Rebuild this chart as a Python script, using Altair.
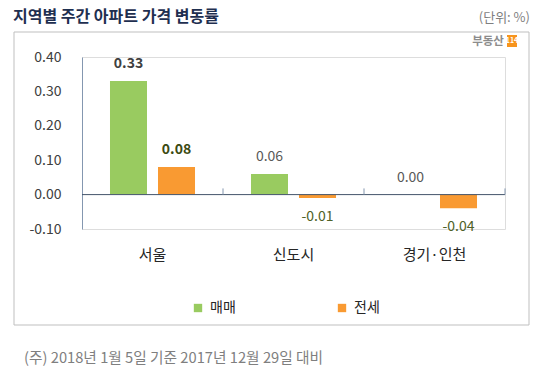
import altair as alt
import pandas as pd

categories = ["서울", "신도시", "경기·인천"]
series = ["매매", "전세"]
sale = [0.33, 0.06, 0.00]
jeonse = [0.08, -0.01, -0.04]
y_ticks = [-0.1, 0.0, 0.1, 0.2, 0.3, 0.4]
bar_colors = ["#99CB60", "#F99A32"]
title_text = "지역별 주간 아파트 가격 변동률"
unit_text = "(단위: %)"
note_text = "(주) 2018년 1월 5일 기준 2017년 12월 29일 대비"
logo_text = "부동산"
logo_num = "114"

FONT = "Noto Sans CJK KR"
W, H = 423, 172

label_color = {("매매", True): "#404040", ("전세", True): "#3B4A12",
               ("매매", False): "#595959", ("전세", False): "#4F6228"}

rows = []
for i, c in enumerate(categories):
    for s, vals in zip(series, [sale, jeonse]):
        v = vals[i]
        strong = (i == 0)
        rows.append({"region": c, "series": s, "value": v,
                     "label": f"{v:.2f}", "strong": strong,
                     "lcolor": label_color[(s, strong)]})
df = pd.DataFrame(rows)
one = pd.DataFrame({"k": [0]})

x_scale = alt.Scale(domain=categories, paddingInner=0, paddingOuter=0)
x_axis = alt.Axis(title=None, domain=False, ticks=False, labelAngle=0,
                  labelFontSize=15, labelFont=FONT, labelColor="#262626",
                  labelPadding=18)
xo_scale = alt.Scale(domain=series, paddingInner=0.229, paddingOuter=0.583)
y_scale = alt.Scale(domain=[-0.1, 0.4], nice=False, zero=False)
y_axis = alt.Axis(values=y_ticks, title=None, grid=False, ticks=False,
                  domainColor="#8497B0", labelFontSize=14, labelFont=FONT,
                  labelColor="#404040", labelPadding=21, labelOverlap=False,
                  labelExpr="datum.value < 0 ? '-' + format(-datum.value, '.2f') : format(datum.value, '.2f')")

x_enc = alt.X("region:N", sort=categories, scale=x_scale, axis=x_axis)
xo_enc = alt.XOffset("series:N", sort=series, scale=xo_scale)
y_enc = alt.Y("value:Q", scale=y_scale, axis=y_axis)

frame = alt.Chart(one).mark_rect(fillOpacity=0, stroke="#BFBFBF", strokeWidth=1).encode(
    x=alt.value(-68), x2=alt.value(447), y=alt.value(-25), y2=alt.value(268))

bars = alt.Chart(df).mark_bar().encode(
    x=x_enc, xOffset=xo_enc, y=y_enc, y2=alt.Y2Datum(0),
    color=alt.Color("series:N", sort=series,
                    scale=alt.Scale(domain=series, range=bar_colors),
                    legend=alt.Legend(orient="none", legendX=109, legendY=244,
                                      direction="horizontal", title=None,
                                      symbolType="square", symbolSize=70,
                                      symbolStrokeWidth=0, labelFontSize=14,
                                      labelFont=FONT, labelColor="#262626",
                                      labelOffset=5, columnPadding=99, padding=0)))

zero_line = alt.Chart(one).mark_rule(color="#44546A", strokeWidth=1).encode(
    y=alt.YDatum(0, scale=y_scale, axis=y_axis), x=alt.value(0), x2=alt.value(W))

ticks = alt.Chart(pd.DataFrame({"region": categories})).mark_rule(
    color="#8497B0", strokeWidth=1).encode(
    x=alt.X("region:N", sort=categories, bandPosition=1, scale=x_scale, axis=x_axis),
    y=alt.YDatum(0, scale=y_scale, axis=y_axis), y2=alt.Y2Datum(0.018))

def value_text(cond, dy, weight):
    return alt.Chart(df).transform_filter(cond).mark_text(
        dy=dy, baseline="middle", fontSize=14, font=FONT, fontWeight=weight).encode(
        x=x_enc, xOffset=xo_enc, y=y_enc, text="label:N",
        fill=alt.Fill("lcolor:N", scale=None))

pos_strong = value_text("datum.value >= 0 && datum.strong", -17, "bold")
pos_reg = value_text("datum.value >= 0 && !datum.strong", -17, "normal")
neg_reg = value_text("datum.value < 0", 19, "normal")

title = alt.Chart(one).mark_text(align="left", baseline="middle", fontSize=16,
                                 fontWeight="bold", color="#1F2F50", font=FONT,
                                 text=title_text).encode(x=alt.value(-69), y=alt.value(-40))
unit = alt.Chart(one).mark_text(align="right", baseline="middle", fontSize=13,
                                color="#7F7F7F", font=FONT,
                                text=unit_text).encode(x=alt.value(448), y=alt.value(-39))
logo = alt.Chart(one).mark_text(align="center", baseline="middle", fontSize=11.5,
                                fontWeight="bold", color="#8C8C8C", font=FONT,
                                text=logo_text).encode(x=alt.value(406), y=alt.value(-15))
logo_box = alt.Chart(one).mark_rect(color="#F7941D").encode(
    x=alt.value(425), x2=alt.value(435), y=alt.value(-22), y2=alt.value(-10))
logo_n = alt.Chart(one).mark_text(align="center", baseline="middle", fontSize=7,
                                  fontWeight="bold", color="white", font=FONT,
                                  text=logo_num).encode(x=alt.value(430), y=alt.value(-16))
note = alt.Chart(one).mark_text(align="left", baseline="middle", fontSize=14.7,
                                color="#7F7F7F", font=FONT,
                                text=note_text).encode(x=alt.value(-58), y=alt.value(302))

chart = alt.layer(frame, bars, zero_line, ticks, pos_strong, pos_reg, neg_reg,
                  title, unit, logo, logo_box, logo_n, note).properties(
    width=W, height=H,
    autosize=alt.AutoSizeParams(type="none"),
    padding={"left": 74, "top": 49, "right": 27, "bottom": 139},
).configure_view(stroke=None).configure(font=FONT).configure_axisY(labelOverlap=False)

chart.save("out.html", embed_options={"renderer": "svg", "actions": False})
